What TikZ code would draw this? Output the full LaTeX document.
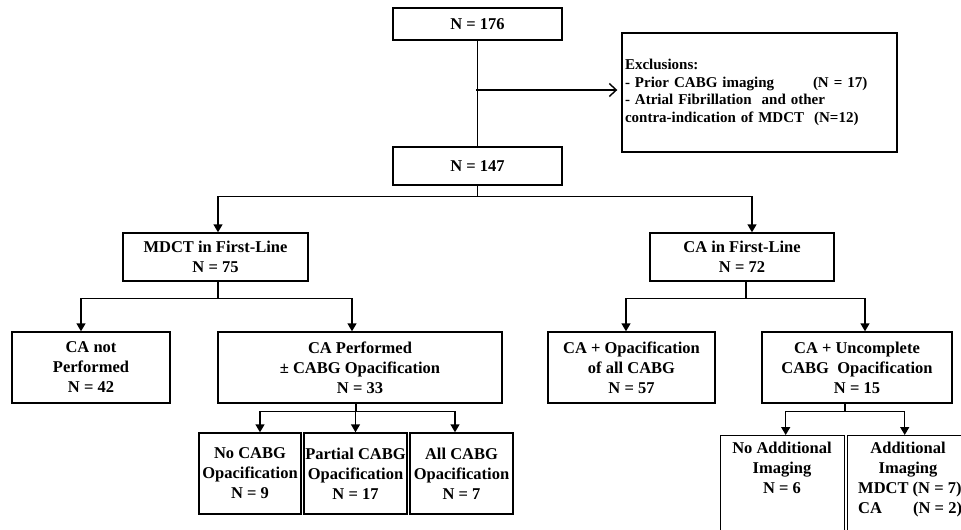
\documentclass[tikz,border=0pt]{standalone}
\usepackage{fontspec}
\setmainfont{Liberation Serif}
\usetikzlibrary{positioning,arrows.meta}

\begin{document}
\begin{tikzpicture}[x=1pt,y=-1pt]
    \tikzset{
        box/.style={draw, line width=1.4pt, align=center, inner sep=1.5pt, font=\bfseries\fontsize{16.5}{20}\selectfont},
        lbl/.style={align=center, inner sep=0pt, font=\bfseries\fontsize{16.5}{20}\selectfont},
        link/.style={line width=1.4pt},
        arr/.style={link, -{Triangle[length=8pt,width=9pt]}},}
    \useasboundingbox (0,0) rectangle (961,530);
    \clip (0,0) rectangle (961,530);
    % boxes
    \node[box, minimum width=169, minimum height=32] (n176) at (477.5,24) {N = 176};
    \node[box, minimum width=169, minimum height=38] (n147) at (477.5,166) {N = 147};
    \node[box, minimum width=275, minimum height=119, text width=269, inner xsep=3pt, align=left,
        font=\bfseries\fontsize{15}{17.5}\selectfont] (excl) at (759.5,92.5)
        {Exclusions:\\\makebox[188pt][l]{- Prior CABG imaging}(N = 17)\\- Atrial Fibrillation\ \ and other\\contra-indication of MDCT\ \ (N=12)};
    \node[box, minimum width=185, minimum height=48] (mdct) at (215.5,257) {MDCT in First-Line\\N = 75};
    \node[box, minimum width=184, minimum height=48] (cafirst) at (742,257) {CA\ in First-Line\\N = 72};
    \node[box, minimum width=158, minimum height=71] (canot) at (91,367.5) {CA not\\Performed\\N = 42};
    \node[box, minimum width=284, minimum height=71] (caperf) at (360,367.5) {CA Performed\\±\ CABG Opacification\\N = 33};
    \node[box, minimum width=167, minimum height=71] (caall) at (631.5,367.5) {CA + Opacification\\of all CABG\\N = 57};
    \node[box, minimum width=190, minimum height=71] (caunc) at (857,367.5) {CA + Uncomplete\\CABG\ \ Opacification\\N = 15};
    \node[box, minimum width=102, minimum height=81, inner xsep=0pt] (nocabg) at (250,473.5) {No CABG\\Opacification\\N = 9};
    \node[box, minimum width=103, minimum height=81, inner xsep=0pt] (partial) at (355.5,473.5) {Partial CABG\\Opacification\\N = 17};
    \node[box, minimum width=103, minimum height=81, inner xsep=0pt] (allcabg) at (461.5,473.5) {All CABG\\Opacification\\N = 7};
    \node[box, anchor=north west, minimum width=124, minimum height=130] (noadd) at (720,435) {};
    \node[lbl, anchor=north] (noaddtxt) at (782,442) {No Additional\\Imaging\\N = 6};
    \node[box, anchor=north west, minimum width=160, minimum height=130] (addimg) at (847,435) {};
    \node[lbl, anchor=north] (addimgtxt) at (908,442) {Additional\\Imaging};
    \node[lbl, anchor=north west, align=left] (addimgn) at (858,482) {MDCT (N = 7)\\\makebox[55pt][l]{CA}(N = 2)};
    % connectors
    \draw[link] (n176) -- (n147);
    \coordinate (br) at (476,90);
    \draw[link, -{Straight Barb[length=7pt,width=13pt]}, shorten >=4pt] (br) -- (br -| excl.west);
    \draw[link] (n147.south) -- ++(0,11) coordinate (j1);
    \draw[arr] (j1) -| ([xshift=2.5pt]mdct.north);
    \draw[arr] (j1) -| ([xshift=10pt]cafirst.north);
    \draw[link] ([xshift=2.5pt]mdct.south) -- ++(0,17) coordinate (j2);
    \draw[arr] (j2) -| ([xshift=-10pt]canot.north);
    \draw[arr] (j2) -| ([xshift=-8pt]caperf.north);
    \draw[link] ([xshift=-4pt]caperf.south) -- ++(0,8) coordinate (j3);
    \draw[arr] (j3) -| ([xshift=10pt]nocabg.north);
    \draw[arr] (j3) -| (partial.north);
    \draw[arr] (j3) -| ([xshift=-6.5pt]allcabg.north);
    \draw[link] ([xshift=4pt]cafirst.south) -- ++(0,17) coordinate (j4);
    \draw[arr] (j4) -| ([xshift=-5.5pt]caall.north);
    \draw[arr] (j4) -| ([xshift=8pt]caunc.north);
    \draw[link] ([xshift=-12pt]caunc.south) -- ++(0,8) coordinate (j5);
    \draw[arr] (j5) -| ([xshift=3pt]noadd.north);
    \draw[arr] (j5) -| ([xshift=-23pt]addimg.north);
\end{tikzpicture}
\end{document}
